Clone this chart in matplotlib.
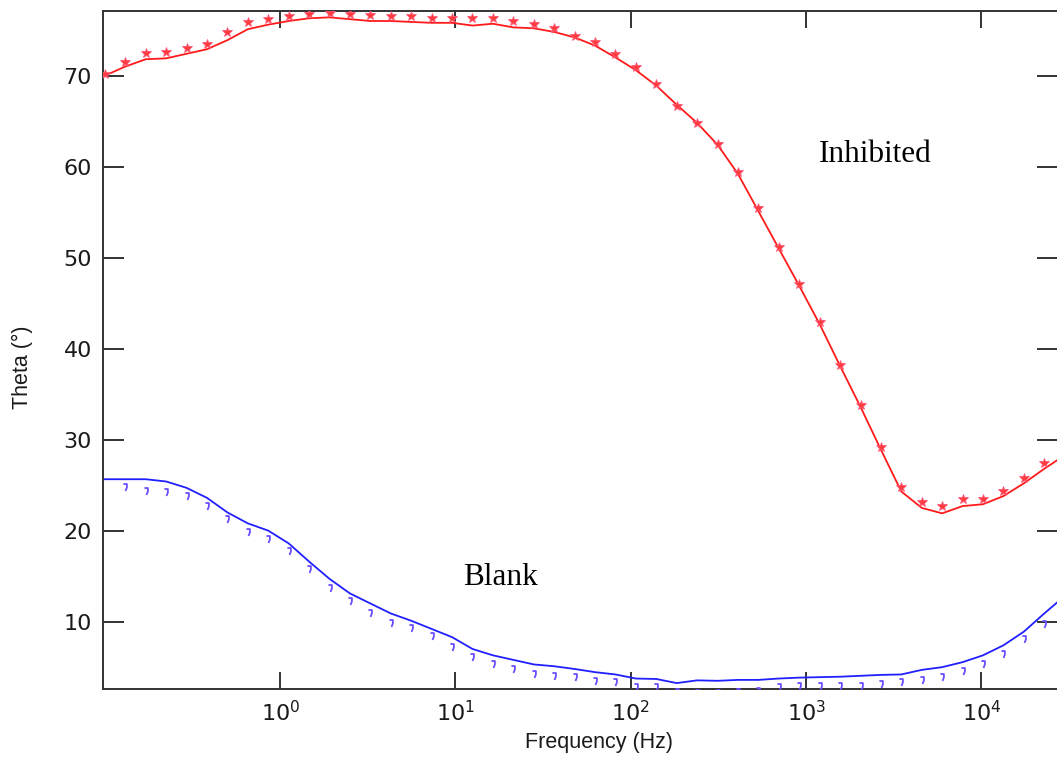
import matplotlib.pyplot as plt
from matplotlib.path import Path
from matplotlib.ticker import NullLocator

plt.rcParams["font.family"] = ["Liberation Sans", "DejaVu Sans"]
plt.rcParams["mathtext.fontset"] = "dejavusans"

# 周波数 (Hz)
freq = [0.100, 0.1308, 0.1711, 0.2238, 0.2924, 0.3824, 0.5000, 0.6538, 0.8551,
        1.118, 1.462, 1.912, 2.500, 3.269, 4.276, 5.591, 7.311, 9.561,
        12.50, 16.35, 21.38, 27.96, 36.56, 47.81, 62.52, 81.76,
        106.9, 139.8, 182.8, 239.1, 312.6, 408.9, 534.6, 699.2, 914.2,
        1195, 1563, 2045, 2673, 3496, 4571, 5977, 7816,
        10220, 13370, 17480, 22860]

# Inhibited: 測定値とフィット
inh_meas = [70.2, 71.5, 72.5, 72.6, 73.0, 73.5, 74.8, 75.9, 76.2,
            76.5, 76.8, 76.9, 76.8, 76.7, 76.6, 76.5, 76.3, 76.3,
            76.3, 76.3, 76.0, 75.7, 75.2, 74.4, 73.7, 72.4,
            71.0, 69.1, 66.7, 64.8, 62.5, 59.4, 55.4, 51.2, 47.1,
            42.9, 38.2, 33.8, 29.2, 24.8, 23.1, 22.7, 23.5,
            23.5, 24.4, 25.8, 27.4]
inh_fit = [70.0, 71.0, 71.8, 71.9, 72.4, 72.9, 73.9, 75.1, 75.6,
           76.0, 76.3, 76.4, 76.2, 76.0, 76.0, 75.9, 75.8, 75.8,
           75.5, 75.7, 75.3, 75.2, 74.8, 74.2, 73.3, 72.0,
           70.6, 68.9, 66.8, 64.8, 62.4, 59.2, 55.1, 51.0, 46.9,
           42.7, 38.1, 33.6, 28.9, 24.3, 22.5, 21.9, 22.7,
           22.9, 23.8, 25.2, 26.8]

# Blank: 測定値 (最初の点なし) とフィット
blank_freq = freq[1:]
blank_meas = [24.8, 24.4, 24.3, 23.8, 22.7, 21.3, 19.9, 19.1,
              17.8, 15.8, 13.7, 12.3, 11.0, 9.9, 9.3, 8.4,
              7.25, 6.15, 5.35, 4.84, 4.25, 4.07, 3.9, 3.5, 3.4,
              2.85, 2.85, 2.3, 2.2, 2.2, 2.3, 2.4, 2.86, 2.95,
              2.95, 2.95, 2.95, 3.2, 3.4, 3.55, 3.95, 4.6,
              5.4, 6.5, 8.05, 9.75]
blank_fit = [25.65, 25.65, 25.65, 25.4, 24.7, 23.6, 22.0, 20.8, 20.0,
             18.6, 16.6, 14.7, 13.1, 12.0, 10.9, 10.1, 9.2, 8.3,
             7.0, 6.3, 5.8, 5.3, 5.1, 4.8, 4.45, 4.2,
             3.75, 3.7, 3.25, 3.55, 3.5, 3.6, 3.6, 3.75, 3.85,
             3.9, 3.95, 4.05, 4.15, 4.2, 4.7, 5.0, 5.55,
             6.3, 7.4, 8.9, 10.9]

# フィット線の両端 (軸の端まで)
fit_ends_freq = [0.0975, 27400]
inh_fit_ends = [69.9, 27.8]
blank_fit_ends = [25.65, 12.2]

x_ticks = [1, 10, 100, 1000, 10000]
x_ticklabels = ["$10^{0}$", "$10^{1}$", "$10^{2}$", "$10^{3}$", "$10^{4}$"]
y_ticks = [10, 20, 30, 40, 50, 60, 70]

fig = plt.figure(figsize=(10.57, 7.6), dpi=100)
ax = fig.add_axes([103 / 1057, 1 - 689 / 760, 1 - 103 / 1057 + 0.001, (689 - 11) / 760])

fx = [fit_ends_freq[0]] + freq + [fit_ends_freq[1]]
ax.plot(fx, [inh_fit_ends[0]] + inh_fit + [inh_fit_ends[1]], color="#ff1a1a", lw=1.3, zorder=2)
ax.plot(fx, [blank_fit_ends[0]] + blank_fit + [blank_fit_ends[1]], color="#2020ff", lw=1.3, zorder=2)

ax.plot(freq, inh_meas, linestyle="none", marker="*", markersize=7.5,
        color="#ff3b3b", markeredgecolor="#ff5a7a", markeredgewidth=0.6, zorder=3)

hook = Path([(-0.6, 1.0), (0.4, 1.0), (0.4, 0.0), (0.0, -1.0)],
            [Path.MOVETO, Path.LINETO, Path.LINETO, Path.LINETO])
ax.plot(blank_freq, blank_meas, linestyle="none", marker=hook, markersize=5,
        markerfacecolor="none", markeredgecolor="#6a4dff", markeredgewidth=1.3, zorder=3)

ax.set_xscale("log")
ax.set_xlim(0.0975, 27400)
ax.set_ylim(2.6, 77.1)
ax.set_xticks(x_ticks)
ax.set_xticklabels(x_ticklabels)
ax.xaxis.set_minor_locator(NullLocator())
ax.set_yticks(y_ticks)

ax.tick_params(axis="both", which="major", direction="in", top=True, right=True,
               width=1.4, color="#333333", labelsize=16, labelcolor="#1a1a1a")
for lab in ax.get_xticklabels() + ax.get_yticklabels():
    lab.set_family(["DejaVu Sans"])
ax.tick_params(axis="y", length=15, pad=8)
ax.tick_params(axis="x", length=12, pad=8)
for s in ax.spines.values():
    s.set_linewidth(1.4)
    s.set_color("#333333")

ax.set_xlabel("Frequency (Hz)", fontsize=15.5, color="#1a1a1a")
ax.xaxis.set_label_coords(0.519, -0.064)
ax.set_ylabel("Theta (°)", fontsize=15.5, color="#1a1a1a")
ax.yaxis.set_label_coords(-0.073, 0.475)

ax.text(1180, 60.5, "Inhibited", fontsize=22.5, family=["Liberation Serif", "DejaVu Serif"])
ax.text(11.1, 14.0, "Blank", fontsize=22.5, family=["Liberation Serif", "DejaVu Serif"])

fig.savefig("out.png", dpi=100)
